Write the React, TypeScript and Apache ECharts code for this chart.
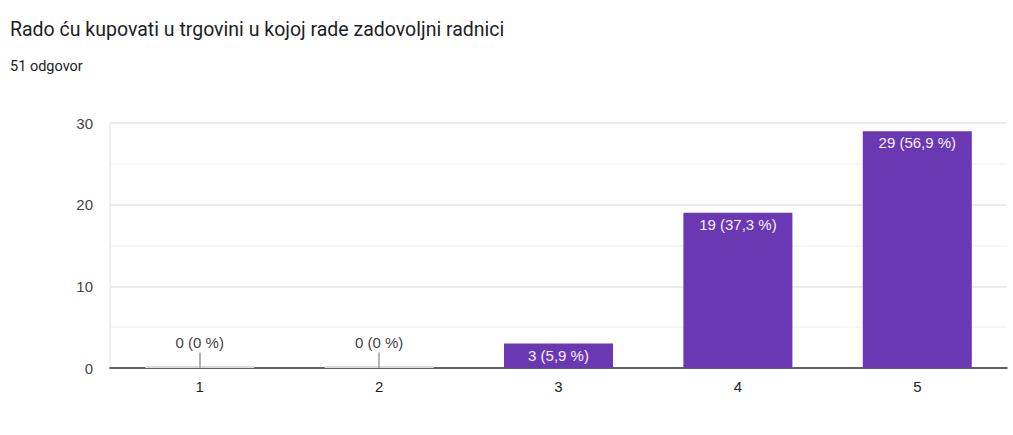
import React, { useEffect, useRef } from "react";
import * as echarts from "echarts";

const titleText = "Rado ću kupovati u trgovini u kojoj rade zadovoljni radnici";
const subtitleText = "51 odgovor";
const categories = ["1", "2", "3", "4", "5"];
const counts = [0, 0, 3, 19, 29];
const percents = ["0", "0", "5,9", "37,3", "56,9"];

export default function App() {
  const ref = useRef<HTMLDivElement>(null);
  useEffect(() => {
    document.body.style.margin = "0";
    const chart = echarts.init(ref.current!, null, { renderer: "svg" });
    const titleFont = "Roboto, Arial, sans-serif";
    const font = "Arial, 'Liberation Sans', sans-serif";
    const barData = counts.map((v) => ({
      value: v,
      itemStyle: { color: v === 0 ? "#dadce0" : "#6b38b3" },
      label:
        v === 0
          ? { position: "top", distance: 16, color: "#444444" }
          : { position: "insideTop", distance: 4, color: "#f4f0fa" },
    }));
    const zeroLines = counts
      .map((v, i) => (v === 0 ? [{ coord: [categories[i], 0] }, { coord: [categories[i], 1.9] }] : null))
      .filter(Boolean);
    chart.setOption({
      animation: false,
      title: [
        {
          text: titleText,
          left: 5,
          top: 14,
          textStyle: { fontFamily: titleFont, fontSize: 19.5, fontWeight: "normal", color: "#202124" },
        },
        {
          text: subtitleText,
          left: 5,
          top: 54,
          textStyle: { fontFamily: titleFont, fontSize: 14.5, fontWeight: "normal", color: "#202124" },
        },
      ],
      grid: { left: 110, right: 6, top: 123, bottom: 67 },
      xAxis: {
        type: "category",
        data: categories,
        axisTick: { show: false },
        axisLine: { lineStyle: { color: "#333333", width: 1.5 } },
        axisLabel: { fontFamily: font, fontSize: 15, color: "#222222", margin: 11 },
      },
      yAxis: {
        type: "value",
        min: 0,
        max: 30,
        interval: 5,
        axisLine: { show: true, lineStyle: { color: "#f0f0f0", width: 2 } },
        axisTick: { show: false },
        splitLine: { lineStyle: { color: ["#e6e6e6", "#f3f3f3"], width: 1.5 } },
        axisLabel: {
          fontFamily: font,
          fontSize: 15,
          color: "#444444",
          margin: 17,
          formatter: (v: number) => (v % 10 === 0 ? String(v) : ""),
        },
      },
      series: [
        {
          type: "bar",
          data: barData,
          barWidth: 109,
          barMinHeight: 2,
          label: {
            show: true,
            fontFamily: font,
            fontSize: 15,
            formatter: (p: any) => `${counts[p.dataIndex]} (${percents[p.dataIndex]} %)`,
          },
          markLine: {
            silent: true,
            symbol: "none",
            label: { show: false },
            lineStyle: { color: "#9e9e9e", width: 1.5, type: "solid" },
            data: zeroLines,
          },
        },
      ],
    });
    return () => chart.dispose();
  }, []);
  return <div ref={ref} style={{ width: 1013, height: 435 }} />;
}
